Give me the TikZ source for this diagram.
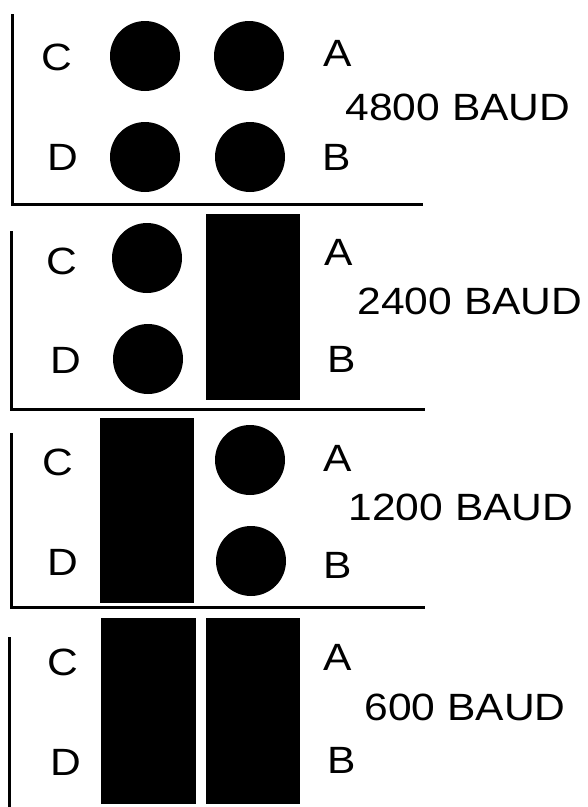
\documentclass[tikz,border=0pt]{standalone}
\usepackage{fontspec}
\setmainfont{Liberation Sans}
\newfontfamily\widefont[FakeStretch=1.12]{Liberation Sans}

\begin{document}
\begin{tikzpicture}[x=1pt,y=-1pt]
    % Define styles
    \tikzstyle{frame} = [line width=3pt, line join=miter]
    \tikzstyle{dot} = [fill=black]
    \tikzstyle{bar} = [fill=black]
    \tikzstyle{letter} = [font=\widefont\fontsize{38}{44}\selectfont, inner sep=0pt]

    \useasboundingbox (0,0) rectangle (588,807);

    % Panel 1
    \draw [frame] (12,14) -- (12,204) -- (423,204);
    \fill [dot] (145,56) circle (35pt);
    \fill [dot] (249,56) circle (35pt);
    \fill [dot] (145,157) circle (35pt);
    \fill [dot] (250,157) circle (35pt);
    \node (c1) [letter] at (57,57) {C};
    \node (d1) [letter] at (63,157) {D};
    \node (a1) [letter] at (338,53) {A};
    \node (b1) [letter] at (337,157) {B};
    \node (rate1) [letter] at (458,107) {4800 BAUD};

    % Panel 2
    \draw [frame] (11,231) -- (11,409) -- (425,409);
    \fill [dot] (147,258) circle (35pt);
    \fill [dot] (148,359) circle (35pt);
    \fill [bar] (206,214) rectangle (300,400);
    \node (c2) [letter] at (62,261) {C};
    \node (d2) [letter] at (66,360) {D};
    \node (a2) [letter] at (339,252) {A};
    \node (b2) [letter] at (342,359) {B};
    \node (rate2) [letter] at (470,301) {2400 BAUD};

    % Panel 3
    \draw [frame] (11,433) -- (11,607) -- (425,607);
    \fill [bar] (100,418) rectangle (194,603);
    \fill [dot] (250,460) circle (35pt);
    \fill [dot] (251,561) circle (35pt);
    \node (c3) [letter] at (58,462) {C};
    \node (d3) [letter] at (63,562) {D};
    \node (a3) [letter] at (338,458) {A};
    \node (b3) [letter] at (338,565) {B};
    \node (rate3) [letter] at (461,507) {1200 BAUD};

    % Panel 4
    \draw [frame] (9,637) -- (9,807);
    \fill [bar] (101,618) rectangle (196,804);
    \fill [bar] (206,618) rectangle (300,804);
    \node (c4) [letter] at (63,662) {C};
    \node (d4) [letter] at (66,762) {D};
    \node (a4) [letter] at (338,657) {A};
    \node (b4) [letter] at (342,760) {B};
    \node (rate4) [letter] at (465,707) {600 BAUD};
\end{tikzpicture}
\end{document}
